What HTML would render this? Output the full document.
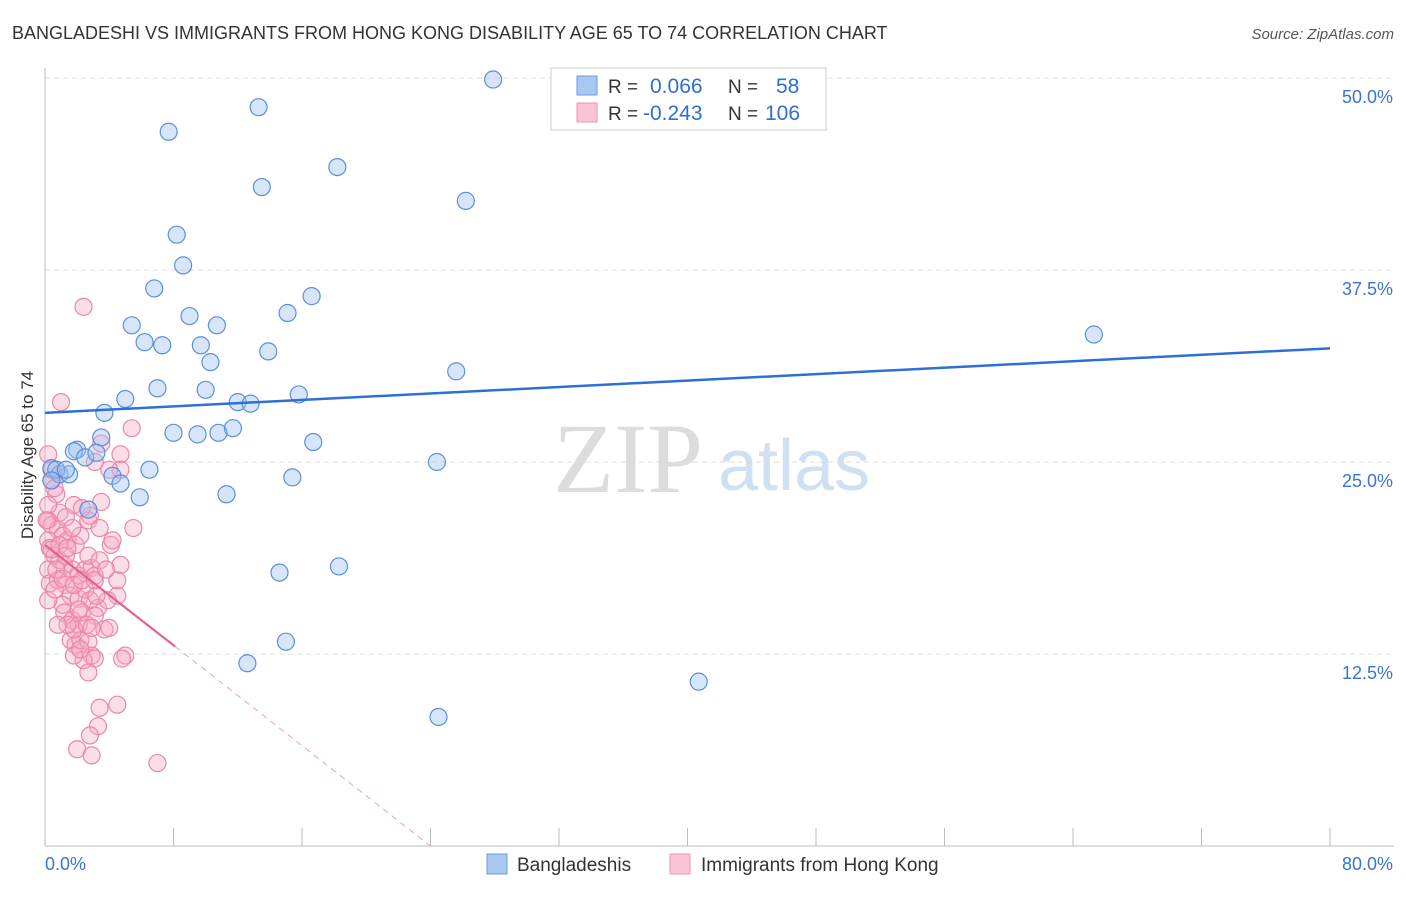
<!DOCTYPE html>
<html><head><meta charset="utf-8"><style>
body{margin:0;background:#fff;font-family:"Liberation Sans",sans-serif}
svg text{font-family:"Liberation Sans",sans-serif}
svg text.serif{font-family:"Liberation Serif",serif}
</style></head><body>
<svg id="chart" width="1406" height="892" viewBox="0 0 1406 892" xmlns="http://www.w3.org/2000/svg">
<text x="12" y="39" font-size="18" fill="#333">BANGLADESHI VS IMMIGRANTS FROM HONG KONG DISABILITY AGE 65 TO 74 CORRELATION CHART</text>
<text x="1394" y="39" font-size="15" fill="#555" text-anchor="end" font-style="italic">Source: ZipAtlas.com</text>
<text class="serif" x="553" y="492" font-size="100" fill="#dcdcdc">ZIP</text>
<text x="718" y="490" font-size="72" fill="#cfe0f3">atlas</text>
<text transform="translate(33,455) rotate(-90)" font-size="17" fill="#333" text-anchor="middle">Disability Age 65 to 74</text>
<g id="grid"></g><g id="axes"></g><g id="lines"></g><g id="pts"></g>
<g>
<rect x="551" y="68" width="275" height="62" fill="#fff" stroke="#ccc"/>
<rect x="577" y="76" width="20" height="19" fill="#a9c8f0" stroke="#6a9be0"/>
<rect x="577" y="103" width="20" height="19" fill="#f9c4d3" stroke="#ec93b0"/>
<text x="608" y="93" font-size="19" fill="#333">R =</text><text x="650" y="93" font-size="21" fill="#2f6fd1">0.066</text>
<text x="728" y="93" font-size="19" fill="#333">N =</text><text x="776" y="93" font-size="21" fill="#2f6fd1">58</text>
<text x="608" y="120" font-size="19" fill="#333">R =</text><text x="643" y="120" font-size="21" fill="#2f6fd1">-0.243</text>
<text x="728" y="120" font-size="19" fill="#333">N =</text><text x="765" y="120" font-size="21" fill="#2f6fd1">106</text>
</g>
<g>
<rect x="487" y="854" width="20" height="20" fill="#a9c8f0" stroke="#6a9be0"/>
<text x="517" y="871" font-size="19" fill="#333">Bangladeshis</text>
<rect x="670" y="854" width="20" height="20" fill="#f9c4d3" stroke="#ec93b0"/>
<text x="701" y="871" font-size="19" fill="#333">Immigrants from Hong Kong</text>
</g>
</svg>
<script>
const yTicks=[12.5,25,37.5,50];
const yTickLabels=["12.5%","25.0%","37.5%","50.0%"];
const xTicks=[0,8,16,24,32,40,48,56,64,72,80];
const blueX=[27.9,13.3,7.7,13.5,18.2,26.2,8.2,8.6,6.8,16.6,5.4,9.0,10.7,15.1,6.2,7.3,9.7,10.3,13.9,25.6,7.0,10.0,5.0,12.0,12.8,15.8,3.7,8.0,9.5,10.8,11.7,16.7,3.5,2.0,1.8,2.5,3.2,24.4,6.5,0.4,0.9,1.5,4.2,4.7,15.4,5.9,11.3,2.7,65.3,14.6,18.3,15.0,12.6,40.7,24.5,0.7,1.3,0.4];
const blueY=[49.9,48.1,46.5,42.9,44.2,42.0,39.8,37.8,36.3,35.8,33.9,34.5,33.9,34.7,32.8,32.6,32.6,31.5,32.2,30.9,29.8,29.7,29.1,28.9,28.8,29.4,28.2,26.9,26.8,26.9,27.2,26.3,26.6,25.8,25.7,25.3,25.6,25.0,24.5,24.6,24.2,24.2,24.1,23.6,24.0,22.7,22.9,21.9,33.3,17.8,18.2,13.3,11.9,10.7,8.4,24.5,24.5,23.8];
const pinkX=[2.4,1.0,5.4,3.5,4.7,3.1,4.7,3.5,1.8,0.7,0.2,0.4,0.6,5.5,4.1,4.2,0.2,0.4,0.8,1.1,1.4,1.9,2.2,2.7,2.8,3.4,2.3,0.9,0.2,0.3,0.6,0.9,1.2,1.7,2.1,2.5,2.9,3.1,0.2,0.3,0.8,1.3,1.6,2.1,2.5,2.8,3.3,1.1,1.2,1.7,2.1,2.3,3.1,0.2,0.6,1.6,1.9,2.2,2.7,2.9,3.1,3.7,4.0,4.5,4.5,4.7,3.9,3.2,1.8,1.4,0.8,2.4,2.7,5.0,4.8,3.4,3.3,2.8,4.5,2.0,2.9,7.0,0.4,0.9,0.2,0.1,0.4,0.9,1.3,1.4,0.7,1.1,1.8,2.3,2.7,3.1,3.4,3.8,2.1,2.6,2.9,1.8,2.2,4.0,1.3,1.7];
const pinkY=[35.1,28.9,27.2,26.2,25.5,25.0,24.5,22.4,22.2,22.9,25.5,23.8,23.3,20.7,19.6,19.9,21.2,20.9,20.6,20.2,19.9,19.6,20.2,21.2,21.5,20.7,22.0,21.7,19.9,19.4,18.9,18.6,18.3,18.0,17.6,18.0,18.1,17.6,18.0,17.1,17.3,17.0,16.3,16.1,16.7,16.0,15.5,15.7,15.2,14.7,14.4,15.2,15.0,16.0,16.7,13.4,13.1,13.4,13.3,12.4,12.2,14.1,14.2,16.3,17.3,18.3,16.0,16.3,14.1,14.4,14.4,12.1,11.3,12.4,12.2,9.0,7.8,7.2,9.2,6.3,5.9,5.4,24.5,24.2,22.2,21.2,19.3,19.6,18.9,19.4,18.0,17.4,17.0,17.3,18.9,17.3,18.6,18.0,15.4,14.4,14.2,12.4,12.8,24.5,21.4,20.7];
const blueTrend=[28.2,32.4];
const pinkTrend=[19.6,24.0,8.1];
const NS="http://www.w3.org/2000/svg";
const X=v=>45+v*(1330-45)/80, Y=v=>846-v*15.36;
function mk(tag,attrs,parent){const e=document.createElementNS(NS,tag);for(const k in attrs)e.setAttribute(k,attrs[k]);document.getElementById(parent).appendChild(e);return e;}
yTicks.forEach((t,i)=>{
 const g=mk('line',{x1:45,x2:1394,y1:Y(t),y2:Y(t),stroke:'#ddd','stroke-dasharray':'5,4'},'grid');
 
 
 const tx=mk('text',{x:1393,y:Y(t)+25,'font-size':18,fill:'#3a74d0','text-anchor':'end'},'axes');tx.textContent=yTickLabels[i];
 
 
});
const ax=mk('line',{x1:45,x2:1394,y1:846,y2:846,stroke:'#bbb'},'axes');


const ay=mk('line',{x1:45,x2:45,y1:68,y2:846,stroke:'#bbb'},'axes');


xTicks.forEach(t=>{const l=mk('line',{x1:X(t),x2:X(t),y1:828,y2:846,stroke:'#bbb'},'axes');
 
 });
let a=mk('text',{x:45,y:870,'font-size':18,fill:'#3a74d0'},'axes');a.textContent='0.0%';


a=mk('text',{x:1393,y:870,'font-size':18,fill:'#3a74d0','text-anchor':'end'},'axes');a.textContent='80.0%';


pinkX.forEach((x,i)=>{const c=mk('circle',{cx:X(x),cy:Y(pinkY[i]),r:8.5,fill:'rgba(246,168,194,0.38)',stroke:'#ea87a8','stroke-width':1.2},'pts');
 
 });
blueX.forEach((x,i)=>{const c=mk('circle',{cx:X(x),cy:Y(blueY[i]),r:8.5,fill:'rgba(160,192,238,0.42)',stroke:'#5b8fdc','stroke-width':1.2},'pts');
 
 });
let l=mk('line',{x1:X(0),y1:Y(blueTrend[0]),x2:X(80),y2:Y(blueTrend[1]),stroke:'#2c6fd6','stroke-width':2.5},'pts');


const ps=pinkTrend[0]/pinkTrend[1];
l=mk('line',{x1:X(0),y1:Y(pinkTrend[0]),x2:X(pinkTrend[2]),y2:Y(pinkTrend[0]-ps*pinkTrend[2]),stroke:'#e8608a','stroke-width':2.2},'pts');


l=mk('line',{x1:X(pinkTrend[2]),y1:Y(pinkTrend[0]-ps*pinkTrend[2]),x2:X(pinkTrend[1]),y2:Y(0),stroke:'#eba0b8','stroke-width':1,'stroke-dasharray':'6,5'},'pts');


</script>
</body></html>
